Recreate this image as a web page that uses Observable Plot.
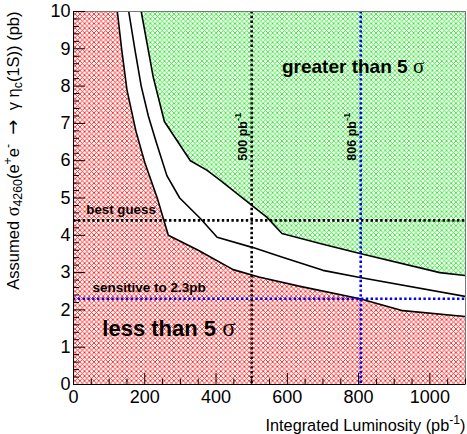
<!DOCTYPE html>
<html>
<head>
<meta charset="utf-8">
<script src="https://cdn.jsdelivr.net/npm/d3@7"></script>
<script src="https://cdn.jsdelivr.net/npm/@observablehq/plot@0.6"></script>
<style>
  body { margin: 0; background: #fff; }
</style>
</head>
<body>
<div id="chart"></div>
<script>
// 5σ significance contours: assumed cross section vs integrated luminosity.
// Lower contour (below it: less than 5σ)
const lumiLow = [0, 111, 123, 135, 150, 175, 200, 235, 266, 350, 448, 520, 636, 804, 924, 1100];
const sigmaLow = [11, 11, 10.0, 9.0, 7.9, 6.8, 5.95, 5.0, 4.0, 3.6, 3.08, 2.88, 2.63, 2.3, 1.98, 1.82];
// Central contour
const lumiMid = [140, 155, 172, 190, 210, 232, 262, 298, 356, 403, 504, 580, 700, 804, 1100];
const sigmaMid = [11, 10.0, 9.0, 8.0, 7.2, 6.5, 5.6, 5.0, 4.45, 3.95, 3.67, 3.43, 3.06, 2.87, 2.36];
// Upper contour (above it: greater than 5σ)
const lumiHigh = [180, 190, 224, 255, 328, 375, 412, 543, 585, 700, 804, 1028, 1100];
const sigmaHigh = [10.6, 10.0, 8.23, 7.05, 6.0, 5.74, 5.47, 4.48, 4.05, 3.76, 3.51, 3.0, 2.92];

// Reference lines
const bestGuess = 4.4;      // pb
const sensitivity = 2.3;    // pb
const lumiNow = 500;        // pb^-1
const lumiFull = 806;       // pb^-1

// Axis ticks
const xTicks = [0, 200, 400, 600, 800, 1000];
const yTicks = [0, 1, 2, 3, 4, 5, 6, 7, 8, 9, 10];
const xMinor = d3.range(0, 1100.1, 50).filter(v => v % 200 !== 0);
const yMinor = d3.range(0, 10.01, 0.2).map(v => +v.toFixed(1)).filter(v => !Number.isInteger(v));

const pts = (xs, ys) => xs.map((x, i) => ({x, y: ys[i]}));
const low = pts(lumiLow, sigmaLow);
const mid = pts(lumiMid, sigmaMid);
const high = pts(lumiHigh, sigmaHigh);

const width = 467, height = 434;
const mL = 73, mR = 2, mT = 11, mB = 50;
const xMax = 1100, yMax = 10;
// convert pixel lengths of the inward ticks into data units
const xPerPx = xMax / (width - mL - mR);
const yPerPx = yMax / (height - mT - mB);

const font = "'Liberation Sans', Arial, Helvetica, sans-serif";

const chart = Plot.plot({
  width, height,
  marginLeft: mL, marginRight: mR, marginTop: mT, marginBottom: mB,
  x: {domain: [0, xMax]},
  y: {domain: [0, yMax]},
  style: {fontFamily: font, background: "white", color: "black"},
  marks: [
    // hatched regions
    Plot.areaY(low, {x: "x", y1: 0, y2: "y", fill: "url(#hatchRed)", clip: true}),
    Plot.areaY(high, {x: "x", y1: "y", y2: yMax, fill: "url(#hatchGreen)", clip: true}),
    // contours
    Plot.line(low, {x: "x", y: "y", stroke: "black", strokeWidth: 1.6, clip: true}),
    Plot.line(mid, {x: "x", y: "y", stroke: "black", strokeWidth: 1.6, clip: true}),
    Plot.line(high, {x: "x", y: "y", stroke: "black", strokeWidth: 1.6, clip: true}),
    // reference lines
    Plot.ruleY([bestGuess], {stroke: "black", strokeWidth: 2.6, strokeDasharray: "2.4,2.4"}),
    Plot.ruleY([sensitivity], {stroke: "#0000ee", strokeWidth: 2.6, strokeDasharray: "2.4,2.4"}),
    Plot.ruleX([lumiNow], {stroke: "black", strokeWidth: 2.6, strokeDasharray: "2.4,2.4"}),
    Plot.ruleX([lumiFull], {stroke: "#0000ee", strokeWidth: 2.6, strokeDasharray: "2.4,2.4"}),
    // frame
    Plot.frame({stroke: "#777", strokeWidth: 1}),
    Plot.ruleX([0], {stroke: "black", strokeWidth: 1}),
    Plot.ruleY([0], {stroke: "black", strokeWidth: 1}),
    // inward ticks
    Plot.ruleY(yTicks, {x1: 0, x2: 12 * xPerPx, stroke: "black", strokeWidth: 1}),
    Plot.ruleY(yMinor, {x1: 0, x2: 6 * xPerPx, stroke: "black", strokeWidth: 1}),
    Plot.ruleX(xTicks, {y1: 0, y2: 11 * yPerPx, stroke: "black", strokeWidth: 1}),
    Plot.ruleX(xMinor, {y1: 0, y2: 5.5 * yPerPx, stroke: "black", strokeWidth: 1}),
    // tick labels
    Plot.axisY({ticks: yTicks, tickSize: 0, tickPadding: 3, fontSize: 18, tickFormat: d => String(d), label: null}),
    Plot.axisX({ticks: xTicks, tickSize: 0, tickPadding: 6, fontSize: 18, tickFormat: d => String(d), label: null}),
    // annotations
    Plot.text(["greater than 5 σ"], {x: 585, y: 8.36, textAnchor: "start", lineAnchor: "bottom", fontSize: 19, fontWeight: "bold"}),
    Plot.text(["less than 5 σ"], {x: 81, y: 1.29, textAnchor: "start", lineAnchor: "bottom", fontSize: 22, fontWeight: "bold"}),
    Plot.text(["best guess"], {x: 36, y: 4.56, textAnchor: "start", lineAnchor: "bottom", fontSize: 13.3, fontWeight: "bold"}),
    Plot.text(["sensitive to 2.3pb"], {x: 53, y: 2.49, textAnchor: "start", lineAnchor: "bottom", fontSize: 13.5, fontWeight: "bold"}),
    Plot.text(["500 pb^{-1}"], {x: lumiNow, y: 6.0, dx: -5, rotate: -90, textAnchor: "start", lineAnchor: "bottom", fontSize: 12.5, fontWeight: "bold"}),
    Plot.text(["806 pb^{-1}"], {x: lumiFull, y: 6.0, dx: -5, rotate: -90, textAnchor: "start", lineAnchor: "bottom", fontSize: 12.5, fontWeight: "bold"}),
    // axis titles
    Plot.text(["Integrated Luminosity (pb^{-1})"], {frameAnchor: "bottom-right", dy: 46, textAnchor: "end", lineAnchor: "bottom", fontSize: 16.3}),
    Plot.text(["Assumed σ_{4260}(e^{+}e^{-}\u00a0\u00a0→\u00a0\u00a0γ\u00a0η_{c}(1S)) (pb)"], {frameAnchor: "top-left", dx: -60, rotate: -90, textAnchor: "end", lineAnchor: "middle", fontSize: 16.5})
  ]
});

// cross-hatch fill patterns
const svg = d3.select(chart);
const defs = svg.insert("defs", ":first-child");
function hatch(id, color) {
  const s = 4.7;
  const p = defs.append("pattern").attr("id", id)
    .attr("patternUnits", "userSpaceOnUse").attr("width", s).attr("height", s);
  p.append("rect").attr("width", s).attr("height", s).attr("fill", "white");
  p.append("path").attr("d", `M0,0L${s},${s}M${s},0L0,${s}`)
    .attr("stroke", color).attr("stroke-width", 0.85).attr("fill", "none");
}
hatch("hatchRed", "#ff1010");
hatch("hatchGreen", "#20e820");

document.getElementById("chart").appendChild(chart);

// turn ^{..} / _{..} markup into super/subscripts; σ in a serif face, a wider arrow
svg.selectAll("text").each(function () {
  const el = this;
  const s = el.textContent;
  if (!/[\^_]\{|σ/.test(s)) return;
  const fs = parseFloat(getComputedStyle(el).fontSize);
  el.textContent = "";
  el.setAttribute("xml:space", "preserve");
  el.style.whiteSpace = "pre";
  let shift = 0;
  for (const part of s.split(/(\^\{[^}]*\}|_\{[^}]*\})/)) {
    if (!part) continue;
    let t = part, off = 0, small = false;
    if (part.startsWith("^{")) { t = part.slice(2, -1); off = -0.42 * fs; small = true; }
    else if (part.startsWith("_{")) { t = part.slice(2, -1); off = 0.22 * fs; small = true; }
    for (const seg of t.split(/(σ|→)/)) {
      if (!seg) continue;
      const ts = d3.select(el).append("tspan").text(seg).attr("dy", off - shift);
      shift = off;
      if (small) ts.attr("font-size", 0.75 * fs);
      if (seg === "σ") ts.attr("font-family", "'Liberation Serif', 'DejaVu Serif', serif").attr("font-weight", "normal").attr("font-size", (small ? 0.75 : 1.1) * fs);
      if (seg === "→") ts.attr("font-family", "'DejaVu Sans', sans-serif").attr("font-size", 1.1 * fs);
    }
  }
});
</script>
</body>
</html>
